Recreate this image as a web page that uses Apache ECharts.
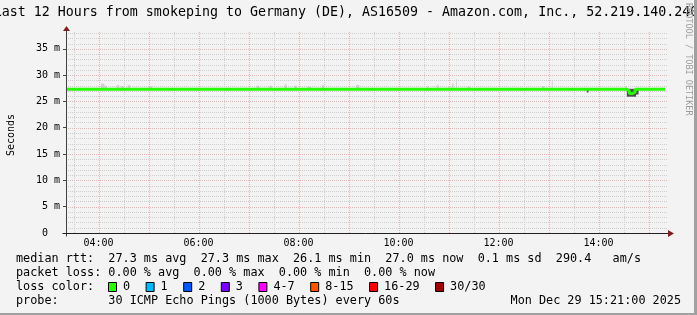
<!DOCTYPE html>
<html><head><meta charset="utf-8">
<script src="https://cdn.jsdelivr.net/npm/echarts@6/dist/echarts.min.js"></script>
<style>html,body{margin:0;padding:0;background:#f3f3f3;}#c{width:697px;height:315px;}</style>
</head><body><div id="c"></div>
<script>
// ---------- data ----------
const titleText = 'Last 12 Hours from smokeping to Germany (DE), AS16509 - Amazon.com, Inc., 52.219.140.240';
const axisStart = '03:21';
const axisEnd = '15:21';
const timeTickLabels = ['04:00', '06:00', '08:00', '10:00', '12:00', '14:00'];
const hourGrid = ['04:00','05:00','06:00','07:00','08:00','09:00','10:00','11:00','12:00','13:00','14:00','15:00'];
const halfHourGrid = ['03:30','04:30','05:30','06:30','07:30','08:30','09:30','10:30','11:30','12:30','13:30','14:30'];
const yMajorGrid = [5, 10, 15, 20, 25, 30, 35];
const yMinorGrid = [1,2,3,4,6,7,8,9,11,12,13,14,16,17,18,19,21,22,23,24,26,27,28,29,31,32,33,34,36,37,38];

// median rtt (ms), step values: each holds until the next time
const medianTimes  = ['03:21', '14:34', '14:37', '14:41', '14:44', '15:20'];
const medianValues = [27.3,    27.0,    26.5,    26.8,    27.3,    27.3];

// light smoke (ms) above the median line
const smokeStart = ['04:03','04:07','04:22','04:27','04:35','05:00','07:10','07:25','07:43','07:55','08:11','08:28','09:09','10:34','10:46','11:00','11:04','11:09','11:23','12:52','13:04','14:32'];
const smokeEnd   = ['04:07','04:10','04:25','04:31','04:38','05:04','07:13','07:28','07:46','07:58','08:15','08:31','09:13','10:36','10:48','11:02','11:06','11:10','11:26','12:55','13:05','14:34'];
const smokeLow   = [27.3, 27.3, 27.3, 27.3, 27.3, 27.3, 27.3, 27.3, 27.3, 27.3, 27.3, 27.3, 27.3, 27.3, 27.3, 27.3, 27.3, 27.3, 27.3, 27.3, 27.3, 27.3];
const smokeHigh  = [28.4, 28.0, 28.1, 27.9, 28.1, 27.9, 28.0, 28.0, 28.2, 28.0, 27.8, 28.1, 28.1, 27.8, 28.1, 27.9, 28.4, 29.2, 27.8, 27.9, 29.0, 27.9];

// dense (dark) smoke
const coreStart = ['13:46', '14:34', '14:45'];
const coreEnd   = ['13:48', '14:45', '14:48'];
const coreLow   = [26.7, 25.9, 26.3];
const coreHigh  = [27.3, 27.4, 27.4];

const rttStats  = ['27.3 ms avg', '27.3 ms max', '26.1 ms min', '27.0 ms now', '0.1 ms sd', '290.4   am/s'];
const lossStats = ['0.00 % avg', '0.00 % max', '0.00 % min', '0.00 % now'];
const lossLabels = ['0', '1', '2', '3', '4-7', '8-15', '16-29', '30/30'];
const lossColors = ['#26ff00', '#00b8ff', '#0059ff', '#7e00ff', '#ff00ff', '#ff5500', '#ff0000', '#a10000'];
const probeText = '30 ICMP Echo Pings (1000 Bytes) every 60s';
const dateText = 'Mon Dec 29 15:21:00 2025';
const unitText = 'Seconds';
const watermark = 'RRDTOOL / TOBI OETIKER';

// ---------- chart ----------
function toMin(s) { const p = s.split(':'); return (+p[0]) * 60 + (+p[1]); }
const MONO = 'DejaVu Sans Mono';
const x0 = toMin(axisStart), x1 = toMin(axisEnd);

const medianData = medianTimes.map((t, i) => [toMin(t), medianValues[i]]);
const smokeData = smokeStart.map((t, i) => [toMin(t), toMin(smokeEnd[i]), smokeLow[i], smokeHigh[i]]);
const coreData = coreStart.map((t, i) => [toMin(t), toMin(coreEnd[i]), coreLow[i], coreHigh[i]]);

const majorColor = '#ebb2b2';
const minorColor = '#cdcdcd';

function hLines(color) {
  return function (params, api) {
    const cs = params.coordSys;
    const p = api.coord([x0, api.value(1)]);
    const y = Math.round(p[1]) + 0.5;
    return { type: 'line', shape: { x1: cs.x, y1: y, x2: cs.x + cs.width + 1, y2: y }, style: { stroke: color, lineWidth: 1, lineDash: [1, 1] } };
  };
}
function vLines(color) {
  return function (params, api) {
    const cs = params.coordSys;
    const p = api.coord([api.value(0), 0]);
    const x = Math.round(p[0]) + 0.5;
    return { type: 'line', shape: { x1: x, y1: cs.y - 1, x2: x, y2: cs.y + cs.height }, style: { stroke: color, lineWidth: 1, lineDash: [1, 1] } };
  };
}
function rectItem(fill) {
  return function (params, api) {
    const p0 = api.coord([api.value(0), api.value(3)]);
    const p1 = api.coord([api.value(1), api.value(2)]);
    return { type: 'rect', shape: { x: p0[0], y: p0[1], width: p1[0] - p0[0], height: p1[1] - p0[1] }, style: { fill: fill } };
  };
}

const chart = echarts.init(document.getElementById('c'), null, { renderer: 'canvas' });
const option = {
  animation: false,
  backgroundColor: '#f3f3f3',
  grid: { left: 66, top: 33, width: 600, height: 200, containLabel: false },
  xAxis: {
    type: 'value', min: x0, max: x1,
    axisLine: { show: false }, axisTick: { show: false }, splitLine: { show: false },
    axisLabel: {
      customValues: timeTickLabels.map(toMin),
      formatter: v => { const h = Math.floor(v / 60), m = v % 60; return (h < 10 ? '0' : '') + h + ':' + (m < 10 ? '0' : '') + m; },
      fontFamily: MONO, fontSize: 10, color: '#000', margin: 5
    }
  },
  yAxis: {
    type: 'value', min: 0, max: 38, interval: 5,
    axisLine: { show: false }, splitLine: { show: false },
    axisTick: { show: true, length: 3, lineStyle: { color: '#444' } },
    axisLabel: {
      showMaxLabel: false,
      formatter: v => v === 0 ? '0  ' : (v % 5 === 0 ? v + ' m' : ''),
      fontFamily: MONO, fontSize: 10, color: '#000', margin: 6
    }
  },
  series: [
    { type: 'custom', data: yMinorGrid.map(v => [x0, v]), encode: { x: 0, y: 1 }, renderItem: hLines(minorColor), silent: true, z: 1, clip: false },
    { type: 'custom', data: halfHourGrid.map(t => [toMin(t), 0]), encode: { x: 0, y: 1 }, renderItem: vLines(minorColor), silent: true, z: 1, clip: false },
    { type: 'custom', data: yMajorGrid.map(v => [x0, v]), encode: { x: 0, y: 1 }, renderItem: hLines(majorColor), silent: true, z: 1, clip: false },
    { type: 'custom', data: hourGrid.map(t => [toMin(t), 0]), encode: { x: 0, y: 1 }, renderItem: vLines(majorColor), silent: true, z: 1, clip: false },
    { type: 'custom', data: smokeData, encode: { x: [0, 1], y: [2, 3] }, renderItem: rectItem('#cfcfcf'), silent: true, z: 2 },
    { type: 'custom', data: coreData, encode: { x: [0, 1], y: [2, 3] }, renderItem: rectItem('#4d4d4d'), silent: true, z: 3 },
    {
      type: 'line', data: medianData.concat([[x1 - 1, medianValues[medianValues.length - 1]]]),
      step: 'end', symbol: 'none', lineStyle: { color: '#26ff00', width: 3 }, silent: true, z: 4
    }
  ]
};
chart.setOption(option);

// decorations positioned through the chart's own coordinate system
const o = chart.convertToPixel({ gridIndex: 0 }, [x0, 0]);
const e = chart.convertToPixel({ gridIndex: 0 }, [x1, 38]);
const ax = Math.round(o[0]) + 0.5, ay = Math.round(o[1]) + 0.5;
const rx = Math.round(e[0]), ty = Math.round(e[1]);
const arrowColor = '#801f1f';
const legendFont = '11.8px ' + MONO;
const rowY = [259, 273, 287, 301];
const lx = 16;
const graphic = [
  { type: 'rect', shape: { x: 694, y: 0, width: 3, height: 315 }, style: { fill: '#a0a0a0' }, z: 100 },
  { type: 'rect', shape: { x: 0, y: 313, width: 697, height: 2 }, style: { fill: '#a0a0a0' }, z: 100 },
  { type: 'line', shape: { x1: ax, y1: ay + 3, x2: ax, y2: ty - 4 }, style: { stroke: '#404040', lineWidth: 1 }, z: 50 },
  { type: 'line', shape: { x1: ax - 4, y1: ay, x2: rx + 3, y2: ay }, style: { stroke: '#1f1f1f', lineWidth: 1 }, z: 50 },
  { type: 'polygon', shape: { points: [[ax, ty - 7], [ax - 3.5, ty - 2], [ax + 3.5, ty - 2]] }, style: { fill: arrowColor }, z: 51 },
  { type: 'polygon', shape: { points: [[rx + 8, ay], [rx + 2, ay - 3.5], [rx + 2, ay + 3.5]] }, style: { fill: arrowColor }, z: 51 },
  { type: 'text', x: 346, y: 13, style: { text: titleText, font: '13.3px ' + MONO, fill: '#000', align: 'center', verticalAlign: 'middle' } },
  { type: 'text', x: 11, y: 135, rotation: Math.PI / 2, style: { text: unitText, font: '10px ' + MONO, fill: '#000', align: 'center', verticalAlign: 'middle' } },
  { type: 'text', x: 688, y: 3, rotation: -Math.PI / 2, style: { text: watermark, font: '8.5px ' + MONO, fill: '#9c9c9c', align: 'left', verticalAlign: 'middle' } },
  { type: 'text', x: lx, y: rowY[0], style: { text: 'median rtt:  ' + rttStats.join('  '), font: legendFont, fill: '#000', verticalAlign: 'middle' } },
  { type: 'text', x: lx, y: rowY[1], style: { text: 'packet loss: ' + lossStats.join('  '), font: legendFont, fill: '#000', verticalAlign: 'middle' } },
  { type: 'text', x: lx, y: rowY[2], style: { text: 'loss color:', font: legendFont, fill: '#000', verticalAlign: 'middle' } },
  { type: 'text', x: lx, y: rowY[3], style: { text: 'probe:       ' + probeText, font: legendFont, fill: '#000', verticalAlign: 'middle' } },
  { type: 'text', x: 681, y: rowY[3], style: { text: dateText, font: legendFont, fill: '#000', align: 'right', verticalAlign: 'middle' } }
];
let bx = 108;
lossLabels.forEach((lab, i) => {
  graphic.push({ type: 'rect', shape: { x: bx + 0.5, y: rowY[2] - 4.5, width: 8, height: 9 }, style: { fill: lossColors[i], stroke: '#000', lineWidth: 1 } });
  graphic.push({ type: 'text', x: bx + 15, y: rowY[2], style: { text: lab, font: legendFont, fill: '#000', verticalAlign: 'middle' } });
  bx = bx + 15 + lab.length * 7.1 + 15.5;
});
chart.setOption({ graphic: graphic });
</script>
</body></html>
